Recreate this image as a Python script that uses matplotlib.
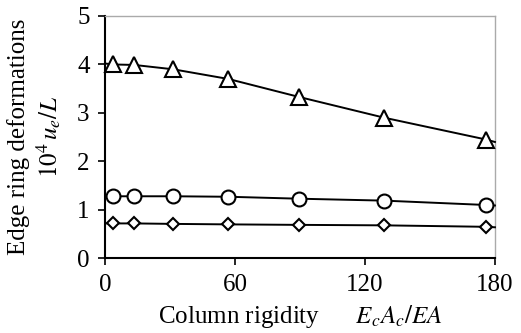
import matplotlib
matplotlib.use("Agg")
import matplotlib.pyplot as plt

plt.rcParams['font.family'] = ['Liberation Serif', 'DejaVu Serif']
plt.rcParams['mathtext.fontset'] = 'stix'

# Data (x = column rigidity EcAc/EA)
x_pts = [3.5, 13.5, 31.5, 57, 89.5, 129, 176]
triangle = [4.00, 3.99, 3.90, 3.70, 3.33, 2.90, 2.45]
circle = [1.28, 1.28, 1.28, 1.27, 1.23, 1.19, 1.10]
diamond = [0.72, 0.72, 0.71, 0.70, 0.69, 0.68, 0.65]

# Line end values at the axis edges (x=0 and x=180)
edge_x = [0, 180]
triangle_edge = [4.02, 2.40]
circle_edge = [1.28, 1.09]
diamond_edge = [0.72, 0.64]

x_ticks = [0, 60, 120, 180]
y_ticks = [0, 1, 2, 3, 4, 5]

fig = plt.figure(figsize=(5.21, 3.33), dpi=100)
ax = fig.add_axes([0.2015, 0.2243, 0.7485, 0.7277])

series = [(triangle, triangle_edge, '^', 11),
          (circle, circle_edge, 'o', 10),
          (diamond, diamond_edge, 'D', 6.5)]
for ys, edge, mk, ms in series:
    xs = [edge_x[0]] + x_pts + [edge_x[1]]
    yv = [edge[0]] + ys + [edge[1]]
    ax.plot(xs, yv, color='black', lw=1.4, marker=mk, markersize=ms,
            markerfacecolor='white', markeredgecolor='black', markeredgewidth=1.5,
            markevery=list(range(1, len(xs) - 1)), clip_on=False, zorder=3)

ax.set_xlim(0, 180)
ax.set_ylim(0, 5)
ax.set_xticks(x_ticks)
ax.set_yticks(y_ticks)
ax.tick_params(direction='out', length=5, width=1.2, labelsize=18, pad=6)

for s in ['left', 'bottom']:
    ax.spines[s].set_color('black')
    ax.spines[s].set_linewidth(1.5)
for s in ['top', 'right']:
    ax.spines[s].set_color('#aaaaaa')
    ax.spines[s].set_linewidth(1.0)

ax.set_ylabel('Edge ring deformations\n$10^4\\,u_e/L$', fontsize=18, linespacing=1.2, labelpad=10)
ax.set_xlabel('Column rigidity      $E_cA_c/EA$', fontsize=18, labelpad=5)

fig.savefig('out.png', dpi=100)
